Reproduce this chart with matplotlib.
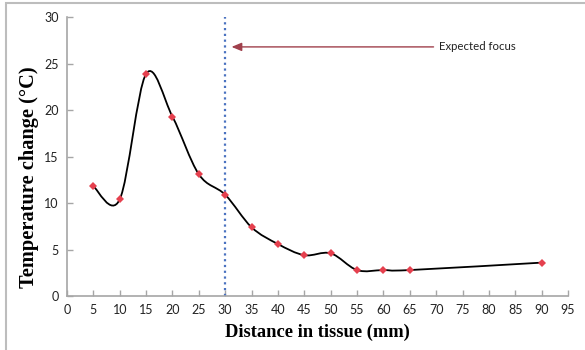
import numpy as np
import matplotlib
matplotlib.use("Agg")
import matplotlib.pyplot as plt
from matplotlib.path import Path
from matplotlib.patches import PathPatch, Rectangle

distance = [5, 10, 15, 20, 25, 30, 35, 40, 45, 50, 55, 60, 65, 90]
temp_change = [11.8, 10.4, 23.9, 19.3, 13.1, 10.9, 7.4, 5.6, 4.4, 4.6, 2.8, 2.8, 2.8, 3.6]
x_ticks = list(range(0, 100, 5))
y_ticks = [0, 5, 10, 15, 20, 25, 30]
focus_x = 30
annotation_text = "Expected focus"

fig = plt.figure(figsize=(5.85, 3.5), dpi=100)
ax = fig.add_axes([0.1145, 0.154, 0.8565, 0.797])

# smoothed line (Catmull-Rom style Bezier, like Excel smoothing)
pts = np.column_stack([distance, temp_change]).astype(float)
n = len(pts)
verts = [tuple(pts[0])]
codes = [Path.MOVETO]
for i in range(n - 1):
    p0 = pts[i - 1] if i > 0 else pts[i]
    p1 = pts[i]
    p2 = pts[i + 1]
    p3 = pts[i + 2] if i + 2 < n else pts[i + 1]
    c1 = p1 + (p2 - p0) / 6.0
    c2 = p2 - (p3 - p1) / 6.0
    verts += [tuple(c1), tuple(c2), tuple(p2)]
    codes += [Path.CURVE4] * 3
ax.add_patch(PathPatch(Path(verts, codes), facecolor="none", edgecolor="black", lw=1.3, zorder=3))
ax.plot(distance, temp_change, linestyle="none", marker="D", markersize=4,
        color="#E5404E", markeredgewidth=0, zorder=4)

# expected focus line
ax.plot([focus_x, focus_x], [0, 30], linestyle=(0, (1, 1.6)), color="#4A72C0", lw=1.6, zorder=2)
ax.annotate("", xy=(31.2, 26.8), xytext=(69.5, 26.8),
            arrowprops=dict(arrowstyle="-|>,head_length=0.6,head_width=0.25", color="#A0404C", lw=1.0,
                            shrinkA=0, shrinkB=0))
ax.text(70.5, 26.8, annotation_text, fontsize=8.2, family="Lato", va="center", ha="left", color="#222222")

ax.set_xlim(0, 95)
ax.set_ylim(0, 30)
ax.set_xticks(x_ticks)
ax.set_yticks(y_ticks)
for s in ["top", "right"]:
    ax.spines[s].set_visible(False)
for s in ["left", "bottom"]:
    ax.spines[s].set_color("#A6A6A6")
    ax.spines[s].set_linewidth(1.2)
ax.tick_params(axis="both", direction="in", length=4, width=1, color="#A6A6A6",
               labelsize=9, labelcolor="#222222", pad=6)
for lab in ax.get_xticklabels() + ax.get_yticklabels():
    lab.set_family("Lato")

ax.set_xlabel("Distance in tissue (mm)", family="Liberation Serif", fontweight="bold", fontsize=13.3, labelpad=5)
ax.set_ylabel("Temperature change (°C)", family="Liberation Serif", fontweight="bold", fontsize=14.7,
              labelpad=4, y=0.427)

fig.patches.append(Rectangle((6 / 585, -0.1), 1.2, 1.1 - 3 / 350 + 0.0, transform=fig.transFigure,
                             facecolor="none", edgecolor="#BDBDBD", lw=1.5))

fig.savefig("out.png", dpi=100)
